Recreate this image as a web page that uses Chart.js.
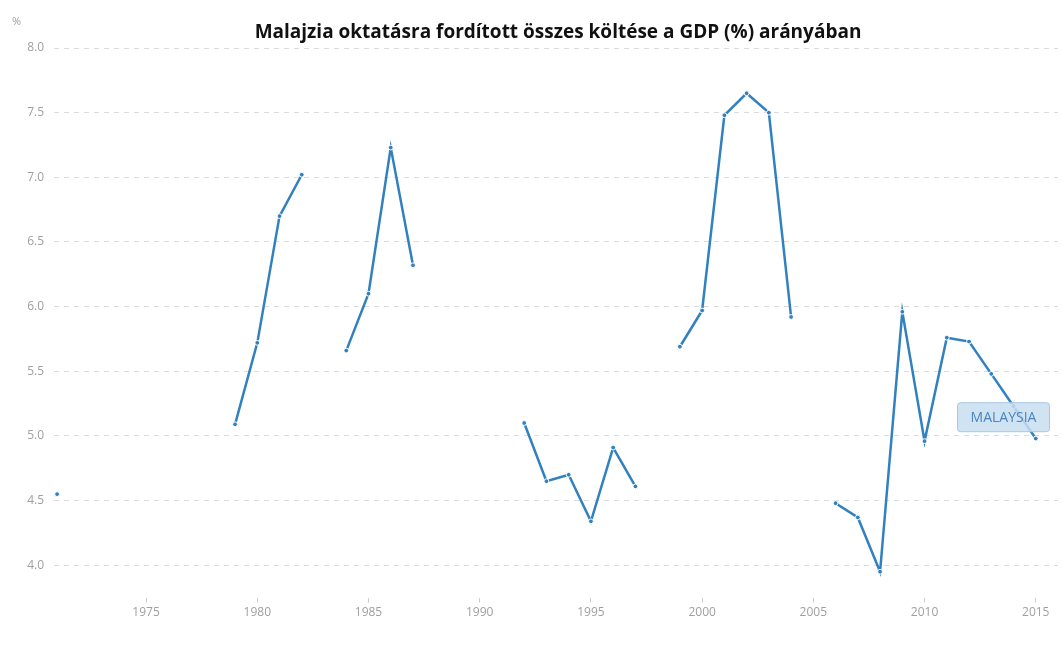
<!DOCTYPE html>
<html>
<head>
<meta charset="utf-8">
<script src="https://cdn.jsdelivr.net/npm/chart.js@4"></script>
<style>
    body { margin: 0; background: #fff; }
    #wrap { width: 1063px; height: 651px; }
</style>
</head>
<body>
<div id="wrap"><canvas id="myChart" width="1063" height="651"></canvas></div>
<script>
const years = [1971, 1972, 1973, 1974, 1975, 1976, 1977, 1978, 1979, 1980, 1981, 1982, 1983, 1984, 1985, 1986, 1987,
    1988, 1989, 1990, 1991, 1992, 1993, 1994, 1995, 1996, 1997, 1998, 1999, 2000, 2001, 2002, 2003, 2004, 2005,
    2006, 2007, 2008, 2009, 2010, 2011, 2012, 2013, 2014, 2015];
const spending = [4.55, null, null, null, null, null, null, null, 5.09, 5.72, 6.70, 7.02, null, 5.66, 6.10, 7.23, 6.32,
    null, null, null, null, 5.10, 4.65, 4.70, 4.34, 4.91, 4.61, null, 5.69, 5.97, 7.48, 7.65, 7.50, 5.92, null,
    4.48, 4.37, 3.95, 5.96, 4.96, 5.76, 5.73, 5.48, 5.23, 4.98];
const xTicks = [1975, 1980, 1985, 1990, 1995, 2000, 2005, 2010, 2015];
const yTicks = [4.0, 4.5, 5.0, 5.5, 6.0, 6.5, 7.0, 7.5, 8.0];
const seriesName = 'MALAYSIA';
const chartTitle = 'Malajzia oktatásra fordított összes költése a GDP (%) arányában';
const unitLabel = '%';

const lineColor = '#3181c0';
const tickColor = '#a0a0a0';

const extraText = {
    id: 'extraText',
    afterDraw(chart) {
        const ctx = chart.ctx;
        ctx.save();
        ctx.fillStyle = '#111';
        ctx.font = 'bold 19px "Open Sans"';
        ctx.textAlign = 'center';
        ctx.textBaseline = 'middle';
        ctx.fillText(chartTitle, 558, 33);

        ctx.fillStyle = tickColor;
        ctx.font = '11px "Open Sans"';
        ctx.textAlign = 'left';
        ctx.fillText(unitLabel, 12, 22);

        // series label on the last part of the line
        const meta = chart.getDatasetMeta(0);
        const p = meta.data[meta.data.length - 2];
        const cx = p.x - 10, cy = p.y + 11;
        const w = 92, h = 29;
        ctx.beginPath();
        ctx.roundRect(cx - w / 2, cy - h / 2, w, h, 3);
        ctx.fillStyle = 'rgba(200, 222, 240, 0.85)';
        ctx.fill();
        ctx.strokeStyle = '#a6c8e6';
        ctx.lineWidth = 1;
        ctx.stroke();
        ctx.fillStyle = '#4a86c0';
        ctx.font = '14px "Open Sans"';
        ctx.textAlign = 'center';
        ctx.fillText(seriesName, cx, cy + 1);
        ctx.restore();
    }
};

new Chart(document.getElementById('myChart'), {
    type: 'line',
    data: {
        datasets: [{
            label: seriesName,
            data: years.map((yr, i) => ({ x: yr, y: spending[i] })),
            borderColor: lineColor,
            borderWidth: 2.5,
            pointRadius: 2.4,
            pointBackgroundColor: lineColor,
            pointBorderColor: '#fff',
            pointBorderWidth: 1,
            spanGaps: false,
            tension: 0
        }]
    },
    options: {
        responsive: false,
        animation: false,
        layout: { padding: { top: 48, right: 0, bottom: 28, left: 0 } },
        plugins: {
            legend: { display: false },
            title: { display: false },
            tooltip: { enabled: false }
        },
        scales: {
            x: {
                type: 'linear',
                min: 1970.86,
                max: 2016.0,
                afterBuildTicks: scale => { scale.ticks = xTicks.map(v => ({ value: v })); },
                ticks: {
                    color: tickColor,
                    font: { family: 'Open Sans', size: 12 },
                    padding: 3,
                    maxRotation: 0,
                    callback: v => String(v)
                },
                grid: { drawOnChartArea: false, drawTicks: true, tickLength: 5, color: '#ccc' },
                border: { display: false }
            },
            y: {
                min: 3.75,
                max: 8.0,
                afterBuildTicks: scale => { scale.ticks = yTicks.map(v => ({ value: v })); },
                afterFit: scale => { scale.width = 54; },
                ticks: {
                    color: tickColor,
                    font: { family: 'Open Sans', size: 12 },
                    padding: 10,
                    callback: v => v.toFixed(1)
                },
                grid: { color: '#dcdcdc', drawTicks: false, lineWidth: 1 },
                border: { display: false, dash: [5, 5] }
            }
        }
    },
    plugins: [extraText]
});
</script>
</body>
</html>
